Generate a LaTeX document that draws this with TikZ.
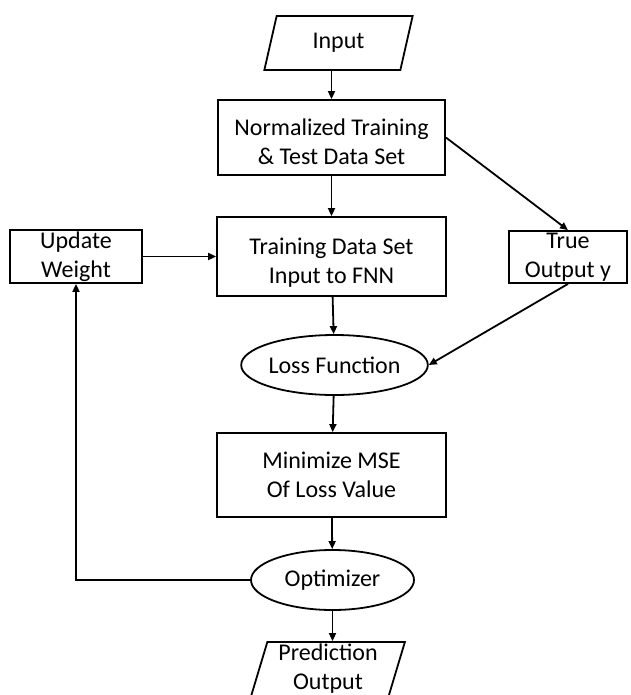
\documentclass[tikz,border=0pt]{standalone}
\usepackage{fontspec}
\setmainfont{Carlito}
\usetikzlibrary{positioning, arrows.meta, shapes.geometric}

\newcommand{\topgap}[1]{\rule{0pt}{#1}}

\tikzset{
    box/.style={draw, rectangle, align=center, inner sep=0pt, line width=1.8pt},
    oval/.style={draw, ellipse, align=center, inner sep=0pt, line width=1.8pt},
    iobox/.style={
        draw,
        trapezium,
        trapezium left angle=75,
        trapezium right angle=105,
        trapezium stretches=true,
        align=center,
        inner sep=0pt,
        line width=1.8pt
    },
    link/.style={line width=1.8pt, -{Triangle[length=8pt, width=7pt]}}
}

\begin{document}
\begin{tikzpicture}[x=1pt, y=-1pt, font=\fontsize{24}{29}\selectfont]
    \clip (0,0) rectangle (630,695);

    % main column
    \node[iobox, minimum width=149pt, minimum height=54pt] (input) at (338.5,43) {Input};
    \node[box, minimum width=227pt, minimum height=75pt] (norm) at (331.5,137.5) {\topgap{26pt}Normalized Training\\\& Test Data Set};
    \node[box, minimum width=229pt, minimum height=79pt] (train) at (331.5,256.5) {\topgap{29pt}Training Data Set\\Input to FNN};
    \node[oval, minimum width=159pt, minimum height=60pt] (loss) at (334.5,365) {Loss Function};
    \node[box, minimum width=229pt, minimum height=84pt] (mse) at (331.5,475) {Minimize MSE\\Of Loss Value};
    \node[oval, minimum width=163pt, minimum height=60pt] (opt) at (332.5,580) {Optimizer};
    \node[iobox, minimum width=154pt, minimum height=54pt] (pred) at (328,669) {Prediction\\Output};

    % side boxes
    \node[box, minimum width=132pt, minimum height=53pt] (upd) at (76,256.5) {Update\\Weight};
    \node[box, minimum width=118pt, minimum height=52pt] (truey) at (568,257) {True\\Output y};

    % connectors
    \draw[link] (input.south -| norm.north) -- (norm.north);
    \draw[link] (norm) -- (train);
    \draw[link] (train) -- (loss);
    \draw[link] (loss) -- (mse);
    \draw[link] (mse) -- (opt);
    \draw[link] (opt.south) -- (opt.south |- pred.north);
    \draw[link] (norm.east) -- (truey.north);
    \draw[link] (truey.south) -- (loss.east);
    \draw[link] (upd.east) -- (train.west);
    \draw[link] (opt.west) -| (upd.south);
\end{tikzpicture}
\end{document}
